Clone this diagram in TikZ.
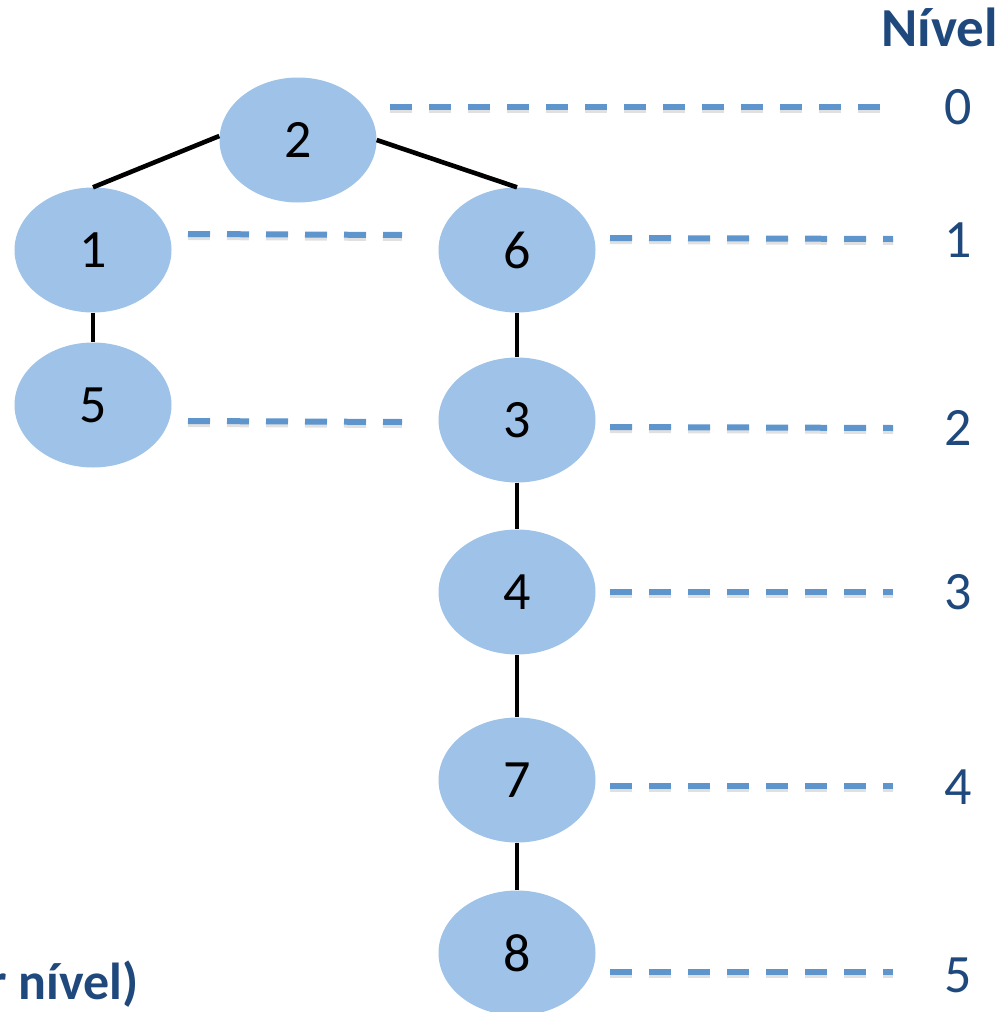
\documentclass[tikz,border=0pt]{standalone}
\usepackage{fontspec}
\setmainfont{Carlito}
\usetikzlibrary{shapes.geometric}
\definecolor{nodefill}{HTML}{9FC2E8}
\definecolor{dashblue}{HTML}{5E95CC}
\definecolor{txtblue}{HTML}{1F497D}
\tikzset{
  treenode/.style={ellipse, fill=nodefill, minimum width=157pt, minimum height=125pt, inner sep=0pt, font=\fontsize{54}{64}\selectfont, text=black},
  edge/.style={line width=4.6pt, black},
  guide/.style={line width=6pt, dashblue, dash pattern=on 22pt off 17pt},
  guideshadow/.style={line width=6pt, black!35, opacity=0.35, dash pattern=on 22pt off 17pt},
  levellabel/.style={font=\fontsize{54}{64}\selectfont, text=txtblue, inner sep=0pt},
  titletext/.style={font=\fontsize{55}{66}\selectfont\bfseries, text=txtblue, inner sep=0pt},
  foottext/.style={font=\fontsize{52}{62}\selectfont\bfseries, text=txtblue, inner sep=0pt}
}
\begin{document}
\begin{tikzpicture}[x=1pt,y=-1pt]
\useasboundingbox (0,0) rectangle (1002,1012);
\clip (0,0) rectangle (1002,1012);
% nodes
\node[treenode] (n2) at (298,140) {2};
\node[treenode] (n1) at (93,250) {1};
\node[treenode] (n6) at (517,250) {6};
\node[treenode] (n5) at (93,405) {5};
\node[treenode] (n3) at (517,420) {3};
\node[treenode] (n4) at (517,592) {4};
\node[treenode] (n7) at (517,780) {7};
\node[treenode] (n8) at (517,953) {8};
% edges
\draw[edge] (n2.west) ++(0,-4) coordinate (e21a) (e21a) -- (n1.north);
\draw[edge] (n2.east) -- (n6.north);
\draw[edge] (n1.south) -- (n5.north);
\draw[edge] (n6.south) -- (n3.north);
\draw[edge] (n3.south) -- (n4.north);
\draw[edge] (n4.south) -- (n7.north);
\draw[edge] (n7.south) -- (n8.north);
% level labels
\node[levellabel] (L0) at (958,107) {0};
\node[levellabel] (L1) at (958,240) {1};
\node[levellabel] (L2) at (958,428) {2};
\node[levellabel] (L3) at (958,592) {3};
\node[levellabel] (L4) at (958,787) {4};
\node[levellabel] (L5) at (958,975) {5};
\node[titletext, anchor=base east] (title) at (998,46) {Nível};
\node[foottext, anchor=base east] (foot) at (139,999) {r nível)};
% guide end points
\coordinate (g0a) at (390,107); \coordinate (g0b) at (880,107);
\coordinate (g1la) at (188,234); \coordinate (g1lb) at (402,235);
\coordinate (g1ra) at (610,238); \coordinate (g1rb) at (893,239);
\coordinate (g2la) at (188,421); \coordinate (g2lb) at (402,422);
\coordinate (g2ra) at (610,427); \coordinate (g2rb) at (893,428);
\coordinate (g3a) at (610,592); \coordinate (g3b) at (893,592);
\coordinate (g4a) at (610,786); \coordinate (g4b) at (893,786);
\coordinate (g5a) at (610,972); \coordinate (g5b) at (893,972);
% shadows
\foreach \a/\b in {g0a/g0b,g1la/g1lb,g1ra/g1rb,g2la/g2lb,g2ra/g2rb,g3a/g3b,g4a/g4b,g5a/g5b}{
  \draw[guideshadow] ([yshift=-3pt]\a) -- ([yshift=-3pt]\b);
}
% guides
\foreach \a/\b in {g0a/g0b,g1la/g1lb,g1ra/g1rb,g2la/g2lb,g2ra/g2rb,g3a/g3b,g4a/g4b,g5a/g5b}{
  \draw[guide] (\a) -- (\b);
}
\end{tikzpicture}
\end{document}
